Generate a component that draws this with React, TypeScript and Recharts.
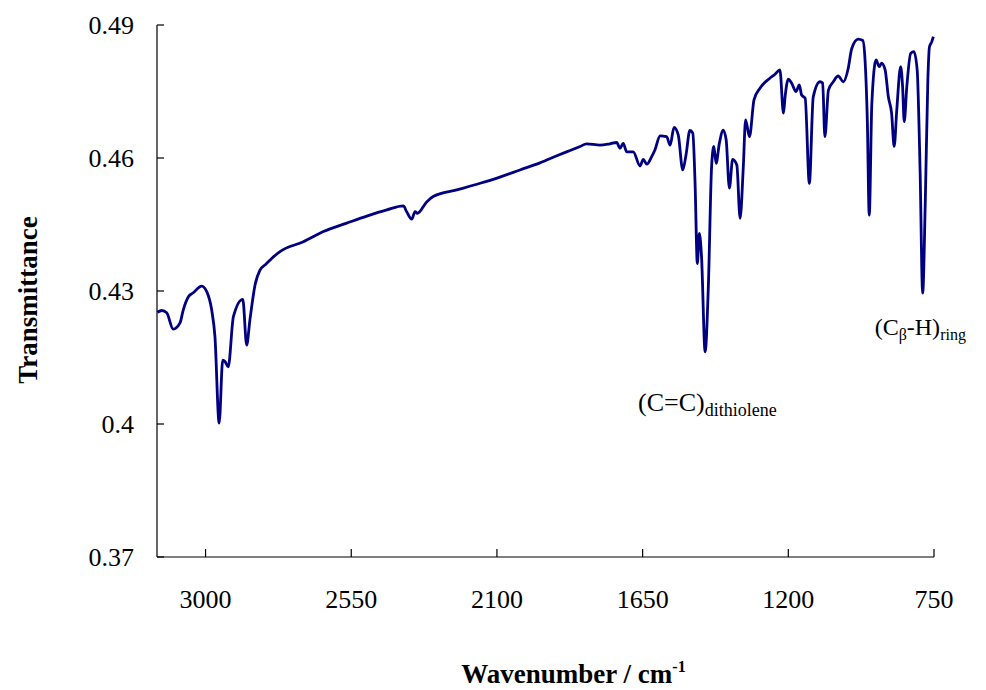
import React from "react"
import { LineChart, Line, XAxis, YAxis, ReferenceDot, Label } from "recharts"

// IR spectrum, wavenumber (cm-1) read high -> low
const wavenumbers = [
  3149, 3135, 3120, 3100, 3079, 3069, 3053, 3038, 3012, 2996, 2981, 2971, 2958, 2947, 2940, 2930,
  2914, 2885, 2873, 2863, 2847, 2832, 2813, 2795, 2770, 2698, 2636, 2564, 2502, 2440, 2389, 2379,
  2363, 2353, 2346, 2317, 2297, 2224, 2152, 2091, 2029, 1967, 1915, 1874, 1843, 1823, 1782, 1751,
  1730, 1720, 1710, 1699, 1679, 1658, 1648, 1637, 1622, 1612, 1596, 1576, 1565, 1553, 1540, 1526,
  1516, 1504, 1495, 1488, 1481, 1475, 1468, 1457, 1447, 1437, 1430, 1423, 1413, 1401, 1392, 1382,
  1372, 1359, 1349, 1339, 1332, 1320, 1306, 1287, 1257, 1241, 1226, 1215, 1210, 1200, 1190, 1176,
  1166, 1159, 1148, 1135, 1123, 1102, 1094, 1087, 1076, 1061, 1046, 1030, 1015, 1004, 984, 970,
  963, 956, 950, 942, 929, 919, 912, 901, 891, 881, 873, 865, 853, 847, 842, 834,
  822, 812, 802, 793, 785, 777, 769, 764, 757, 752,
]

const transmittance = [
  0.4252, 0.4256, 0.4251, 0.4214, 0.4228, 0.4257, 0.4287, 0.4296, 0.4311, 0.4298, 0.4257, 0.4197, 0.4002, 0.4144, 0.4141, 0.4129,
  0.4242, 0.4281, 0.4178, 0.4235, 0.4314, 0.4347, 0.4361, 0.4374, 0.4389, 0.4411, 0.4434, 0.4453, 0.4469, 0.4483, 0.4492, 0.4479,
  0.4462, 0.4479, 0.4475, 0.4501, 0.4513, 0.4528, 0.4543, 0.4557, 0.4573, 0.4589, 0.4605, 0.4617, 0.4626, 0.4632, 0.4629, 0.4632,
  0.4635, 0.4622, 0.4633, 0.4614, 0.4614, 0.4582, 0.4597, 0.4586, 0.4603, 0.4618, 0.465, 0.4648, 0.4629, 0.4669, 0.4652, 0.4573,
  0.4607, 0.4662, 0.4656, 0.4543, 0.4362, 0.443, 0.4377, 0.4163, 0.431, 0.458, 0.4626, 0.4588, 0.4633, 0.4663, 0.4641, 0.4532,
  0.4597, 0.4584, 0.4464, 0.458, 0.4686, 0.4648, 0.4731, 0.4758, 0.478, 0.4789, 0.4799, 0.4701, 0.4738, 0.4778, 0.4769, 0.475,
  0.4765, 0.4742, 0.4735, 0.4543, 0.4738, 0.4772, 0.4769, 0.4648, 0.4753, 0.4772, 0.4785, 0.4772, 0.4802, 0.4847, 0.4868, 0.4865,
  0.4821, 0.4686, 0.4471, 0.4723, 0.4821, 0.4806, 0.4814, 0.4799, 0.4738, 0.4701, 0.4626, 0.4708, 0.4806, 0.4761, 0.4682, 0.4761,
  0.4836, 0.484, 0.4799, 0.4573, 0.4295, 0.4498, 0.4776, 0.4851, 0.4862, 0.4874,
]

const xTicks = [3000, 2550, 2100, 1650, 1200, 750]
const yTicks = [0.37, 0.4, 0.43, 0.46, 0.49]

const data = wavenumbers.map((w, i) => ({ w, t: transmittance[i] }))

// lowest point of the spectrum inside a wavenumber window
const bandMin = (hi: number, lo: number) =>
  data
    .filter((d) => d.w <= hi && d.w >= lo)
    .reduce((a, b) => (b.t < a.t ? b : a))

const dithiolene = bandMin(1500, 1400)
const ringCH = bandMin(800, 770)

const W = 986
const H = 690
const LEFT = 157
const TOP = 25
const RIGHT = 934
const BOTTOM = 557
const FONT = "Liberation Serif, Times New Roman, serif"
const serif = { fontFamily: FONT }
const INK = "#000"
const LINE = "#000080"

const YTick = ({ y, payload }: any) => (
  <g>
    <line x1={LEFT} x2={LEFT + 7} y1={y} y2={y} stroke={INK} strokeWidth={1.2} />
    <text x={LEFT - 23} y={y} textAnchor="end" dominantBaseline="central" fontSize={26} style={serif} fill={INK}>
      {String(payload.value)}
    </text>
  </g>
)

const XTick = ({ x, payload }: any) => (
  <g>
    <line x1={x} x2={x} y1={BOTTOM} y2={BOTTOM - 8} stroke={INK} strokeWidth={1.2} />
    <text x={x} y={BOTTOM + 51} textAnchor="middle" fontSize={26} style={serif} fill={INK}>
      {String(payload.value)}
    </text>
  </g>
)

export default function App() {
  return (
    <div style={{ position: "absolute", left: 0, top: 0, width: W, height: H, background: "#fff", fontFamily: FONT }}>
      <LineChart width={W} height={H} data={data} margin={{ top: TOP, right: W - RIGHT, bottom: 0, left: 0 }}>
        <XAxis
          dataKey="w"
          type="number"
          domain={[750, 3150]}
          reversed
          ticks={xTicks}
          interval={0}
          height={H - BOTTOM}
          axisLine={{ stroke: INK, strokeWidth: 1.2 }}
          tickLine={false}
          tick={<XTick />}
        >
          <Label
            content={({ viewBox }: any) => (
              <text
                x={viewBox.x + viewBox.width / 2 + 28}
                y={viewBox.y + 126}
                textAnchor="middle"
                fontSize={27}
                fontWeight="bold"
                style={serif}
                fill={INK}
              >
                Wavenumber / cm
                <tspan dy={-11} fontSize={16}>-1</tspan>
              </text>
            )}
          />
        </XAxis>
        <YAxis
          type="number"
          domain={[0.37, 0.49]}
          ticks={yTicks}
          interval={0}
          width={LEFT}
          axisLine={{ stroke: INK, strokeWidth: 1.2 }}
          tickLine={false}
          tick={<YTick />}
        >
          <Label
            content={({ viewBox }: any) => {
              const cx = 28
              const cy = viewBox.y + viewBox.height / 2 + 9
              return (
                <text
                  x={cx}
                  y={cy}
                  transform={`rotate(-90 ${cx} ${cy})`}
                  textAnchor="middle"
                  dominantBaseline="central"
                  fontSize={27}
                  fontWeight="bold"
                  style={serif}
                  fill={INK}
                >
                  Transmittance
                </text>
              )
            }}
          />
        </YAxis>
        <Line
          dataKey="t"
          type="monotone"
          stroke={LINE}
          strokeWidth={2.8}
          dot={false}
          isAnimationActive={false}
        />
        <ReferenceDot
          x={dithiolene.w}
          y={dithiolene.t}
          r={1}
          fill="none"
          stroke="none"
          label={{
            content: ({ viewBox }: any) => (
              <text x={viewBox.x - 66} y={viewBox.y + 60} fontSize={26} style={serif} fill={INK}>
                (C=C)
                <tspan dy={5} fontSize={18}>dithiolene</tspan>
              </text>
            ),
          }}
        />
        <ReferenceDot
          x={ringCH.w}
          y={ringCH.t}
          r={1}
          fill="none"
          stroke="none"
          label={{
            content: ({ viewBox }: any) => (
              <text x={viewBox.x - 47} y={viewBox.y + 43} fontSize={24} style={serif} fill={INK}>
                (C
                <tspan dy={5} fontSize={16}>β</tspan>
                <tspan dy={-5}>-H)</tspan>
                <tspan dy={5} fontSize={16}>ring</tspan>
              </text>
            ),
          }}
        />
      </LineChart>
    </div>
  )
}
